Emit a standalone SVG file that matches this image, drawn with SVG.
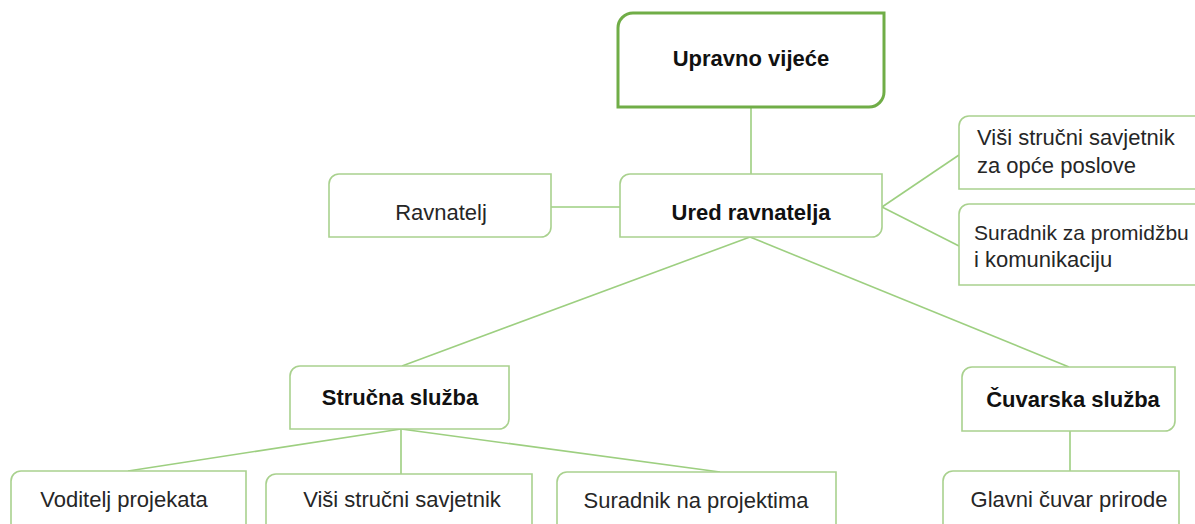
<svg xmlns="http://www.w3.org/2000/svg" width="1195" height="524" viewBox="0 0 1195 524">
<style>
.box{fill:#ffffff;stroke:#a9d18e;stroke-width:1.6}
.top{fill:#ffffff;stroke:#70ad47;stroke-width:3}
.ln{fill:none;stroke:#9dcf80;stroke-width:1.6}
text{font-family:"Liberation Sans",Arial,sans-serif;font-size:22px;fill:#262626}
.b{font-weight:bold;fill:#111111}
.m{text-anchor:middle}
</style>
<rect width="1195" height="524" fill="#ffffff"/>
<g id="connectors">
<path class="ln" d="M751,107 V174"/>
<path class="ln" d="M551,207 H620"/>
<path class="ln" d="M882,207 L959,155"/>
<path class="ln" d="M882,207 L959,246"/>
<path class="ln" d="M750,237 L402,366"/>
<path class="ln" d="M750,237 L1069,367"/>
<path class="ln" d="M401,429 L128,471"/>
<path class="ln" d="M401,429 V474"/>
<path class="ln" d="M401,429 L720,472"/>
<path class="ln" d="M1070,431 V471"/>
</g>
<g id="upravno-vijece">
<path class="top" d="M618,28 A15,15 0 0 1 633,13 H884 V92 A15,15 0 0 1 869,107 H618 Z"/>
<text class="b m" x="751" y="66">Upravno vijeće</text>
</g>
<g id="ured-ravnatelja">
<path class="box" d="M620,184 A10,10 0 0 1 630,174 H882 V227 A10,10 0 0 1 872,237 H620 Z"/>
<text class="b m" x="751" y="220">Ured ravnatelja</text>
</g>
<g id="ravnatelj">
<path class="box" d="M329,184 A10,10 0 0 1 339,174 H551 V227 A10,10 0 0 1 541,237 H329 Z"/>
<text class="m" x="441" y="220">Ravnatelj</text>
</g>
<g id="visi-savjetnik-opce">
<path class="box" d="M959,126 A10,10 0 0 1 969,116 H1196 V189 H959 Z"/>
<text x="977" y="145">Viši stručni savjetnik</text>
<text x="977" y="173">za opće  poslove</text>
</g>
<g id="suradnik-promidzba">
<path class="box" d="M959,214 A10,10 0 0 1 969,204 H1196 V285 H959 Z"/>
<text x="974" y="240" style="font-size:21px">Suradnik za promidžbu</text>
<text x="974" y="267">i komunikaciju</text>
</g>
<g id="strucna-sluzba">
<path class="box" d="M290,376 A10,10 0 0 1 300,366 H509 V419 A10,10 0 0 1 499,429 H290 Z"/>
<text class="b m" x="400" y="405">Stručna služba</text>
</g>
<g id="cuvarska-sluzba">
<path class="box" d="M962,377 A10,10 0 0 1 972,367 H1175 V421 A10,10 0 0 1 1165,431 H962 Z"/>
<text class="b m" x="1073" y="407">Čuvarska služba</text>
</g>
<g id="voditelj-projekata">
<path class="box" d="M11,481 A10,10 0 0 1 21,471 H246 V530 A10,10 0 0 1 236,540 H11 Z"/>
<text class="m" x="124" y="507">Voditelj projekata</text>
</g>
<g id="visi-strucni-savjetnik">
<path class="box" d="M266,484 A10,10 0 0 1 276,474 H532 V530 A10,10 0 0 1 522,540 H266 Z"/>
<text class="m" x="402" y="507">Viši stručni savjetnik</text>
</g>
<g id="suradnik-na-projektima">
<path class="box" d="M557,482 A10,10 0 0 1 567,472 H836 V530 A10,10 0 0 1 826,540 H557 Z"/>
<text class="m" x="696" y="508">Suradnik na projektima</text>
</g>
<g id="glavni-cuvar-prirode">
<path class="box" d="M943,481 A10,10 0 0 1 953,471 H1179 V530 A10,10 0 0 1 1169,540 H943 Z"/>
<text class="m" x="1069" y="507">Glavni čuvar prirode</text>
</g>
</svg>
